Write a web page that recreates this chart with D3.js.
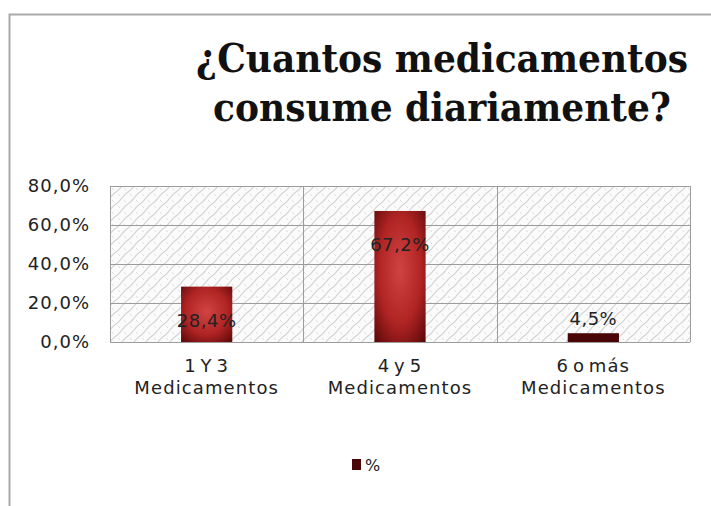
<!DOCTYPE html>
<html>
<head>
<meta charset="utf-8">
<script src="https://cdn.jsdelivr.net/npm/d3@7"></script>
<style>
  body { margin: 0; background: #fff; }
  svg { display: block; }
</style>
</head>
<body>
<svg id="chart" width="711" height="506"></svg>
<script>
var categories = ["1 Y 3\nMedicamentos", "4 y 5\nMedicamentos", "6 o más\nMedicamentos"];
var values = [0.284, 0.672, 0.045];
var valueLabels = ["28,4%", "67,2%", "4,5%"];
var yTicks = [0, 0.2, 0.4, 0.6, 0.8];
var seriesName = "%";
var titleLines = ["¿Cuantos medicamentos", "consume diariamente?"];

var labelFont = "'DejaVu Sans', sans-serif";

var svg = d3.select("#chart");
var defs = svg.append("defs");

// hatch texture for plot background
var pat = defs.append("pattern")
	.attr("id", "hatch")
	.attr("patternUnits", "userSpaceOnUse")
	.attr("width", 12)
	.attr("height", 12);
pat.append("rect").attr("width", 12).attr("height", 12).attr("fill", "#fbfbfb");
pat.append("path")
	.attr("d", "M0,12 Q3,8 6,6 T12,0 M-3,3 L3,-3 M9,15 L15,9")
	.attr("stroke", "#d4d4d4")
	.attr("stroke-width", 1.1)
	.attr("fill", "none");
pat.append("path")
	.attr("d", "M2,2 l2,2 M8,8 l2,2")
	.attr("stroke", "#dedede")
	.attr("stroke-width", 1)
	.attr("fill", "none");

var grad = defs.append("radialGradient")
	.attr("id", "barGrad")
	.attr("cx", "50%").attr("cy", "45%").attr("r", "75%");
grad.append("stop").attr("offset", "0%").attr("stop-color", "#d04444");
grad.append("stop").attr("offset", "55%").attr("stop-color", "#b02424");
grad.append("stop").attr("offset", "100%").attr("stop-color", "#560606");

// outer frame
svg.append("path")
	.attr("d", "M9.5,506 V14.5 H711")
	.attr("fill", "none")
	.attr("stroke", "#a9a9a9")
	.attr("stroke-width", 2);

// title
svg.append("text")
	.attr("text-anchor", "middle")
	.attr("font-family", "'DejaVu Serif Condensed', 'DejaVu Serif', serif")
	.attr("font-weight", "bold")
	.attr("font-size", 40)
	.attr("fill", "#111")
	.selectAll("tspan")
	.data(titleLines)
	.join("tspan")
	.attr("x", 442)
	.attr("y", function(d, i){ return 72 + i * 49; })
	.text(function(d){ return d; });

var margin = {left: 110, top: 186, right: 21, bottom: 164};
var width = 711 - margin.left - margin.right;
var height = 506 - margin.top - margin.bottom;

var g = svg.append("g")
	.attr("transform", "translate(" + margin.left + "," + margin.top + ")");

var xScale = d3.scaleBand()
	.domain(categories)
	.range([0, width])
	.paddingInner(0.735)
	.paddingOuter(0.3675);

var yScale = d3.scaleLinear()
	.domain([0, 0.8])
	.range([height, 0]);

g.append("rect")
	.attr("width", width)
	.attr("height", height)
	.attr("fill", "url(#hatch)");

// horizontal gridlines
g.selectAll(".grid")
	.data(yTicks)
	.join("line")
	.attr("class", "grid")
	.attr("x1", 0).attr("x2", width)
	.attr("y1", function(d){ return Math.round(yScale(d)) + 0.5; })
	.attr("y2", function(d){ return Math.round(yScale(d)) + 0.5; })
	.attr("stroke", "#9c9c9c")
	.attr("stroke-width", 1);

// vertical category separators
g.selectAll(".vsep")
	.data(d3.range(categories.length + 1))
	.join("line")
	.attr("class", "vsep")
	.attr("x1", function(i){ return Math.round(i * width / categories.length) + 0.5; })
	.attr("x2", function(i){ return Math.round(i * width / categories.length) + 0.5; })
	.attr("y1", 0).attr("y2", height)
	.attr("stroke", "#9c9c9c");

// y axis
var yAxis = d3.axisLeft(yScale)
	.tickValues(yTicks)
	.tickSize(0)
	.tickPadding(20)
	.tickFormat(function(d){ return d3.format(".1f")(d * 100).replace(".", ",") + "%"; });

var yG = g.append("g").call(yAxis);
yG.select(".domain").remove();
yG.selectAll("text")
	.attr("font-family", labelFont)
	.attr("font-size", 18)
	.attr("letter-spacing", 1)
	.attr("fill", "#222");

// bars
g.selectAll(".bar")
	.data(values)
	.join("rect")
	.attr("class", "bar")
	.attr("x", function(d, i){ return xScale(categories[i]); })
	.attr("width", xScale.bandwidth())
	.attr("y", function(d){ return yScale(d); })
	.attr("height", function(d){ return height - yScale(d); })
	.attr("fill", function(d){ return d < 0.1 ? "#4a0606" : "url(#barGrad)"; });

// value labels
g.selectAll(".vlabel")
	.data(values)
	.join("text")
	.attr("class", "vlabel")
	.attr("x", function(d, i){ return xScale(categories[i]) + xScale.bandwidth() / 2; })
	.attr("y", function(d){ return d < 0.1 ? yScale(d) - 8 : yScale(d) + 40; })
	.attr("text-anchor", "middle")
	.attr("font-family", labelFont)
	.attr("font-size", 18)
	.attr("letter-spacing", 0.5)
	.attr("fill", "#222")
	.text(function(d, i){ return valueLabels[i]; });

// x axis labels
var xAxis = d3.axisBottom(xScale).tickSize(0).tickFormat("");
var xG = g.append("g")
	.attr("transform", "translate(0," + height + ")")
	.call(xAxis);
xG.select(".domain").remove();
xG.selectAll(".tick").each(function(d){
	var t = d3.select(this).append("text")
		.attr("text-anchor", "middle")
		.attr("font-family", labelFont)
		.attr("font-size", 18)
		.attr("letter-spacing", 1.1)
		.attr("word-spacing", -3)
		.attr("fill", "#222");
	d.split("\n").forEach(function(line, i){
		t.append("tspan").attr("x", 0).attr("y", 30 + i * 22).text(line);
	});
});

// legend
var leg = svg.append("g").attr("transform", "translate(352,459)");
leg.append("rect").attr("width", 9).attr("height", 11).attr("fill", "#4a0606");
leg.append("text")
	.attr("x", 13).attr("y", 12)
	.attr("font-family", labelFont)
	.attr("font-size", 16)
	.attr("fill", "#222")
	.text(seriesName);
</script>
</body>
</html>
